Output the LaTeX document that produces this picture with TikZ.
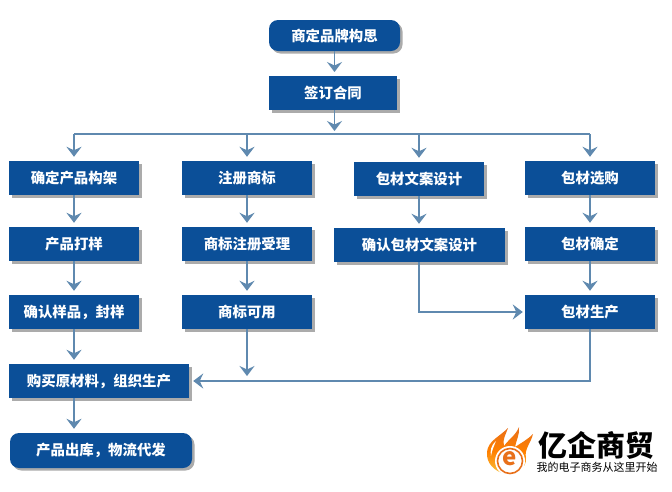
\documentclass[tikz,border=0pt]{standalone}
\usepackage{fontspec}
\setmainfont{Noto Sans CJK SC}
\usetikzlibrary{arrows.meta,shadows}
\definecolor{boxblue}{HTML}{0B4F98}
\definecolor{linkblue}{HTML}{5F89AF}
\definecolor{flamedeep}{HTML}{E8701A}
\definecolor{flamelight}{HTML}{F9C23C}
\tikzset{
  x=1pt,y=-1pt,
  flowbox/.style={fill=boxblue,text=white,inner sep=0pt,font=\fontsize{14.4}{16}\selectfont\bfseries,
    general shadow={shadow xshift=2.5pt,shadow yshift=-2.5pt,fill=black!55,opacity=.6}},
  stdbox/.style={flowbox,minimum width=130pt,minimum height=34pt},
  termbox/.style={flowbox,rounded corners=9pt},
  link/.style={draw=linkblue,line width=1.8pt},
  flow/.style={link,-{Stealth[length=10pt,width=15pt,inset=3.5pt]}},
}
\begin{document}
\begin{tikzpicture}
\useasboundingbox (0,0) rectangle (672,491);
\fill[white] (0,0) rectangle (672,491);

% junction points of the connectors
\coordinate (busL) at (74,134);
\coordinate (busA) at (247,134);
\coordinate (busB) at (419,134);
\coordinate (busR) at (590,134);
\coordinate (busM) at (335,134);
\coordinate (mergeA) at (247,376);

% boxes
\node[termbox,minimum width=131pt,minimum height=31pt] (start) at (334.5,35.5) {商定品牌构思};
\node[stdbox,minimum width=128pt] (contract) at (333,93) {签订合同};

\node[stdbox] (a1) at (74,178) {确定产品构架};
\node[stdbox] (a2) at (74,244) {产品打样};
\node[stdbox] (a3) at (74,312) {确认样品，封样};
\node[flowbox,minimum width=180pt,minimum height=34pt] (buy) at (99,381) {购买原材料，组织生产};
\node[termbox,minimum width=182pt,minimum height=35pt] (ship) at (101,450.5) {产品出库，物流代发};

\node[stdbox] (b1) at (247,178) {注册商标};
\node[stdbox] (b2) at (247,244) {商标注册受理};
\node[stdbox] (b3) at (247,312) {商标可用};

\node[stdbox] (c1) at (419,179) {包材文案设计};
\node[flowbox,minimum width=171pt,minimum height=34pt] (c2) at (419.5,245) {确认包材文案设计};

\node[stdbox] (d1) at (590,178) {包材选购};
\node[stdbox] (d2) at (590,244) {包材确定};
\node[stdbox] (d3) at (590,312) {包材生产};

% arrows
\coordinate (afterStart) at (334.5,72);
\coordinate (afterContract) at (334.5,131);
\path[flow] (start.south -| afterStart) -- (afterStart);
\path[flow] (contract.south -| afterContract) -- (afterContract);
\path[link,line width=1.5pt] (busL) -- (busR);
\foreach \bus/\target in {busL/a1,busA/b1,busB/c1,busR/d1}
  \path[flow,shorten >=4pt] (\bus) -- (\target.north);
\foreach \from/\target in {a1/a2,a2/a3,b1/b2,b2/b3,c1/c2,d1/d2,d2/d3}
  \path[flow,shorten >=4pt] (\from.south) -- (\from.south |- \target.north);
\path[flow,shorten >=4pt] (a3.south) -- (a3.south |- buy.north);
\path[flow] (b3.south) -- (mergeA);
\path[flow,shorten >=4pt] (buy.south -| a1) -- (ship.north -| a1);
\path[flow,shorten >=2pt] (c2.south -| c1) -- (c1 |- d3) -- (d3.west);
\path[flow,shorten >=4pt] (d3.south) -- (d3 |- buy) -- (buy.east);

% company mark: flame around a ringed "e"
\shade[top color=flamedeep,bottom color=flamelight,middle color=orange] (505,474)
  .. controls (494,471) and (486,463) .. (487,452)
  .. controls (488,441) and (499,437) .. (508,428)
  .. controls (506,434) and (502,440) .. (504,446)
  .. controls (509,439) and (516,435) .. (519,427)
  .. controls (520,434) and (516,441) .. (515,447)
  .. controls (521,443) and (527,440) .. (533,434)
  .. controls (531,443) and (524,449) .. (526,458)
  .. controls (527,468) and (516,475) .. (505,474) -- cycle;
\fill[white] (496,441) .. controls (491,445) and (490,451) .. (491,456)
  .. controls (492,450) and (494,446) .. (496,441) -- cycle;
\fill[white] (510,461) circle[radius=15];
\draw[flamedeep,line width=1.6pt] (510,461) circle[radius=12.5];
\node[inner sep=0pt,text=flamedeep,font=\fontsize{24}{24}\selectfont\bfseries] (mark) at (510,459) {e};

% company name and slogan
\node[inner sep=0pt,text=black,font=\fontsize{29}{30}\selectfont\bfseries] (brand) at (596,445) {亿企商贸};
\node[inner sep=0pt,text=black,font=\fontsize{11}{12}\selectfont] (slogan) at (597,467) {我的电子商务从这里开始};
\end{tikzpicture}
\end{document}
